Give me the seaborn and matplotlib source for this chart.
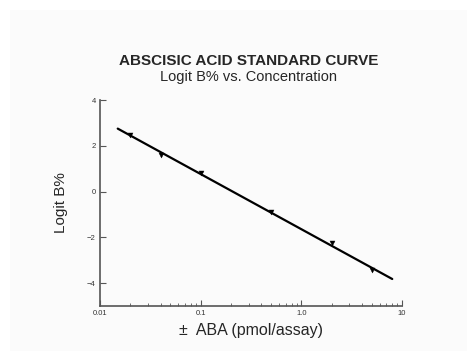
import numpy as np
import pandas as pd
import matplotlib
matplotlib.use("Agg")
import matplotlib.pyplot as plt
from matplotlib.patches import Rectangle
from matplotlib.ticker import FixedLocator, LogLocator, NullFormatter
import seaborn as sns

# standard points
conc = [0.02, 0.04, 0.1, 0.5, 2.0, 5.0]          # pmol/assay
logit_b = [2.48, 1.61, 0.83, -0.91, -2.26, -3.43]  # Logit B%

x_ticks = [0.01, 0.1, 1.0, 10]
x_tick_labels = ["0.01", "0.1", "1.0", "10"]
y_ticks = [4, 2, 0, -2, -4]

df = pd.DataFrame({"conc": conc, "logit": logit_b})

# straight-line fit of logit vs log10(conc), drawn a bit past the data
slope, icpt = np.polyfit(np.log10(df["conc"]), df["logit"], 1)
fit_x = np.array([0.015, 8.0])
fit = pd.DataFrame({"conc": fit_x, "logit": slope * np.log10(fit_x) + icpt})

sns.set_style("ticks")
plt.rcParams["font.family"] = ["Liberation Sans", "DejaVu Sans"]

fig = plt.figure(figsize=(4.67, 3.51), dpi=100)
fig.patch.set_facecolor("white")
fig.patches.append(Rectangle((10 / 467, 0), 1, 1 - 10 / 351, transform=fig.transFigure,
                             facecolor="#fbfbfb", edgecolor="none", zorder=-1))
ax = fig.add_axes([100 / 467, 1 - 306 / 351, 302 / 467, 206 / 351])
ax.set_facecolor("#fbfbfb")

sns.lineplot(data=fit, x="conc", y="logit", ax=ax, color="black", linewidth=1.6)
sns.scatterplot(data=df, x="conc", y="logit", ax=ax, color="black", marker="v",
                s=13, edgecolor="black", zorder=3)

ax.set_xscale("log")
ax.set_xlim(0.01, 10)
ax.set_ylim(-5, 4)
ax.xaxis.set_major_locator(FixedLocator(x_ticks))
ax.set_xticklabels(x_tick_labels)
ax.xaxis.set_minor_locator(LogLocator(base=10, subs=np.arange(2, 10)))
ax.xaxis.set_minor_formatter(NullFormatter())
ax.set_yticks(y_ticks)
ax.tick_params(axis="both", which="major", direction="in", length=4, width=0.8,
               labelsize=5.5, pad=3, color="#555555", labelcolor="#333333")
ax.tick_params(axis="x", which="minor", direction="in", length=2.5, width=0.6, color="#555555")
sns.despine(ax=ax)
for s in ["left", "bottom"]:
    ax.spines[s].set_color("#555555")
    ax.spines[s].set_linewidth(1.2)

ax.set_xlabel("\u00b1  ABA (pmol/assay)", fontsize=11.5, labelpad=4)
ax.set_ylabel("Logit B%", fontsize=11, labelpad=14)

fig.text(0.532, 1 - 61 / 351, "ABSCISIC ACID STANDARD CURVE", ha="center", va="center",
         fontsize=11, fontweight="bold")
fig.text(0.532, 1 - 77 / 351, "Logit B% vs. Concentration", ha="center", va="center",
         fontsize=10.5)

fig.savefig("out.png", dpi=100, facecolor=fig.get_facecolor())
